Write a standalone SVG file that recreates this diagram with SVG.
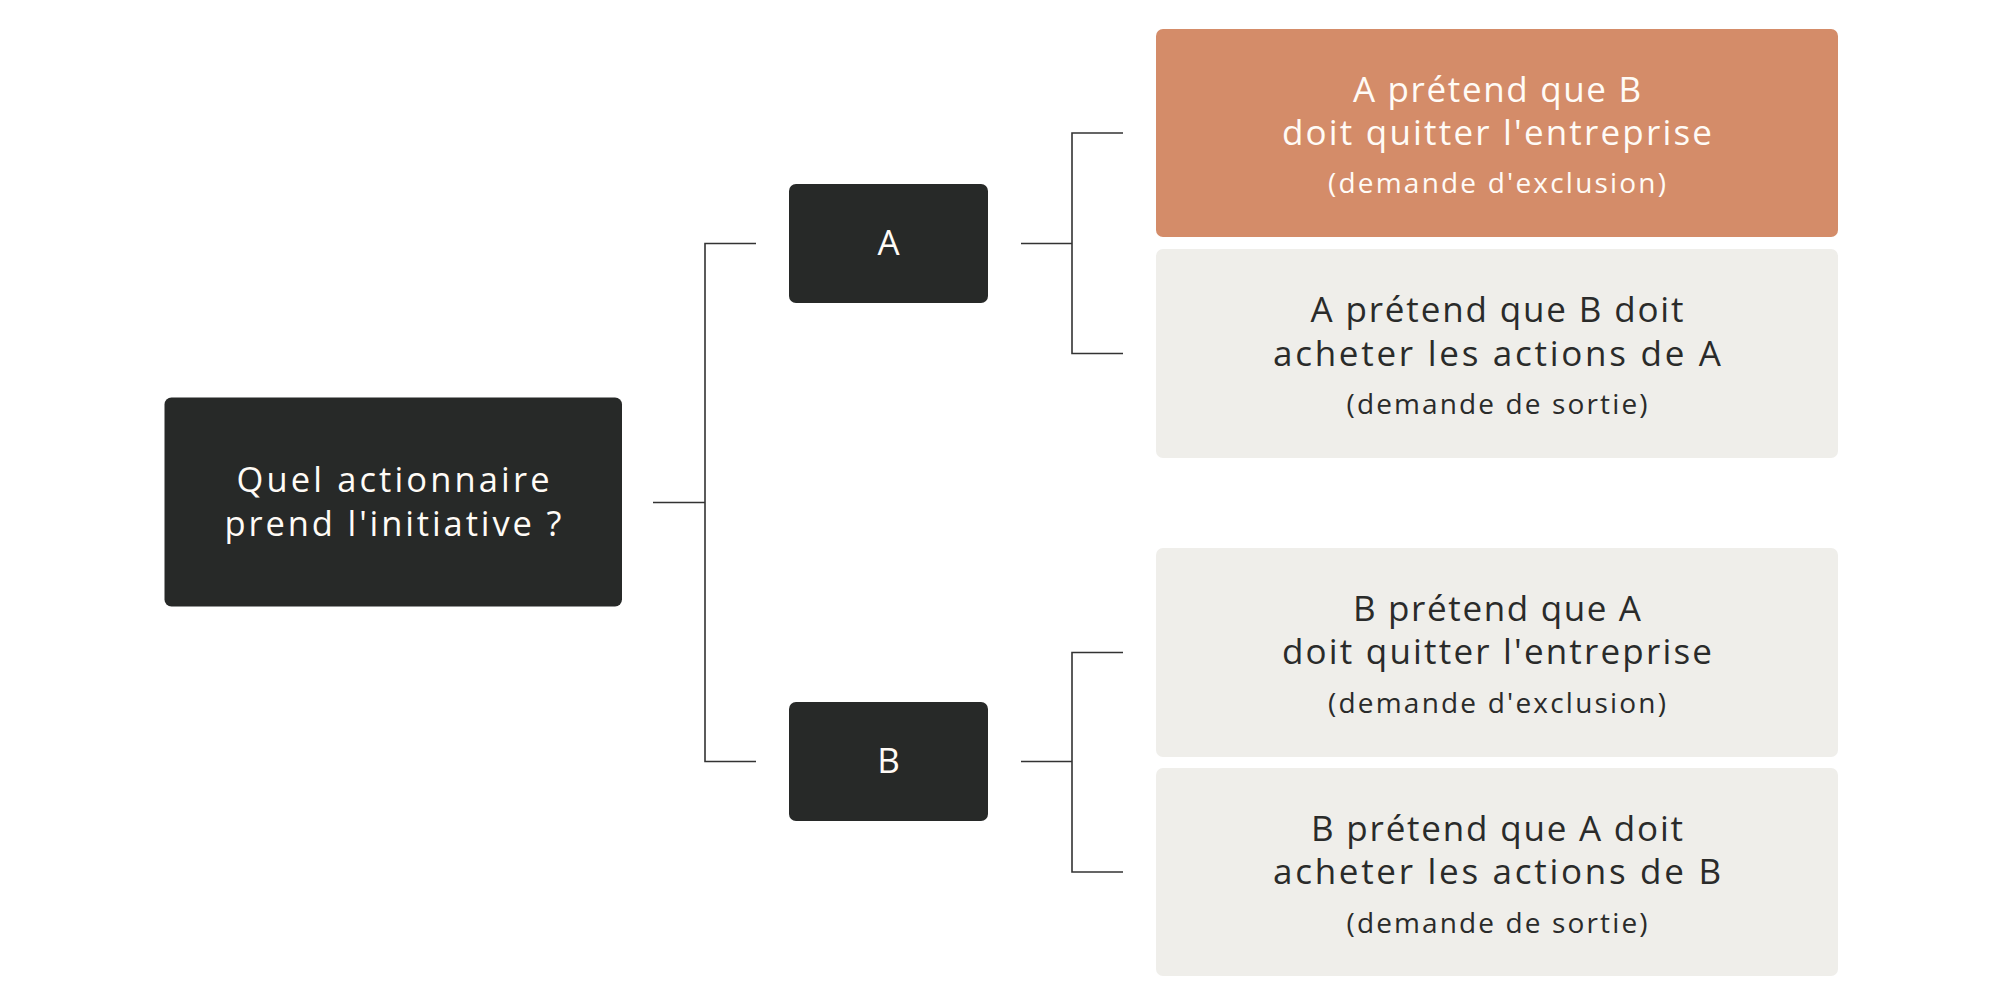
<svg xmlns="http://www.w3.org/2000/svg" width="2000" height="1005" viewBox="0 0 2000 1005">
  <style>
    .dark { fill: #272928; }
    .accent { fill: #D48C69; }
    .light { fill: #EFEEEA; }
    .t { font-family: "Open Sans", "DejaVu Sans", sans-serif; text-anchor: middle; }
    .w { fill: #FFFBF6; }
    .k { fill: #2A2B2A; }
    .big { font-size: 35px; }
    .main { font-size: 34.5px; }
    .small { font-size: 28px; }
    .conn { stroke: #333333; stroke-width: 1.6; fill: none; }
  </style>
  <rect x="0" y="0" width="2000" height="1005" fill="#FFFFFF"/>

  <g id="connectors">
    <path class="conn" d="M653 502.5 H705"/>
    <path class="conn" d="M756 243.5 H705 V761.5 H756"/>
    <path class="conn" d="M1021 243.5 H1072"/>
    <path class="conn" d="M1123 133 H1072 V353.5 H1123"/>
    <path class="conn" d="M1021 761.5 H1072"/>
    <path class="conn" d="M1123 652.5 H1072 V872 H1123"/>
  </g>

  <g id="root">
    <rect class="dark" x="164.5" y="397.5" width="457.5" height="209" rx="7"/>
    <text class="t w main" x="393" y="492" textLength="313" lengthAdjust="spacing">Quel actionnaire</text>
    <text class="t w main" x="393" y="535.5" textLength="337" lengthAdjust="spacing">prend l'initiative ?</text>
  </g>

  <g id="nodeA">
    <rect class="dark" x="789" y="184" width="199" height="119" rx="7"/>
    <text class="t w big" x="888.5" y="255">A</text>
  </g>

  <g id="nodeB">
    <rect class="dark" x="789" y="702" width="199" height="119" rx="7"/>
    <text class="t w big" x="888.5" y="773">B</text>
  </g>

  <g id="a-exclusion">
    <rect class="accent" x="1156" y="29" width="682" height="208" rx="7"/>
    <text class="t w big" x="1497" y="102" textLength="288" lengthAdjust="spacing">A prétend que B</text>
    <text class="t w big" x="1497" y="145" textLength="430" lengthAdjust="spacing">doit quitter l'entreprise</text>
    <text class="t w small" x="1497" y="193" textLength="338" lengthAdjust="spacing">(demande d'exclusion)</text>
  </g>

  <g id="a-sortie">
    <rect class="light" x="1156" y="249" width="682" height="209" rx="7"/>
    <text class="t k big" x="1497" y="322" textLength="373" lengthAdjust="spacing">A prétend que B doit</text>
    <text class="t k big" x="1497" y="365.5" textLength="448" lengthAdjust="spacing">acheter les actions de A</text>
    <text class="t k small" x="1497" y="414" textLength="301" lengthAdjust="spacing">(demande de sortie)</text>
  </g>

  <g id="b-exclusion">
    <rect class="light" x="1156" y="548" width="682" height="209" rx="7"/>
    <text class="t k big" x="1497" y="621" textLength="288" lengthAdjust="spacing">B prétend que A</text>
    <text class="t k big" x="1497" y="664" textLength="430" lengthAdjust="spacing">doit quitter l'entreprise</text>
    <text class="t k small" x="1497" y="712.5" textLength="338" lengthAdjust="spacing">(demande d'exclusion)</text>
  </g>

  <g id="b-sortie">
    <rect class="light" x="1156" y="768" width="682" height="208" rx="7"/>
    <text class="t k big" x="1497" y="840.5" textLength="372" lengthAdjust="spacing">B prétend que A doit</text>
    <text class="t k big" x="1497" y="884" textLength="448" lengthAdjust="spacing">acheter les actions de B</text>
    <text class="t k small" x="1497" y="933" textLength="301" lengthAdjust="spacing">(demande de sortie)</text>
  </g>
</svg>
